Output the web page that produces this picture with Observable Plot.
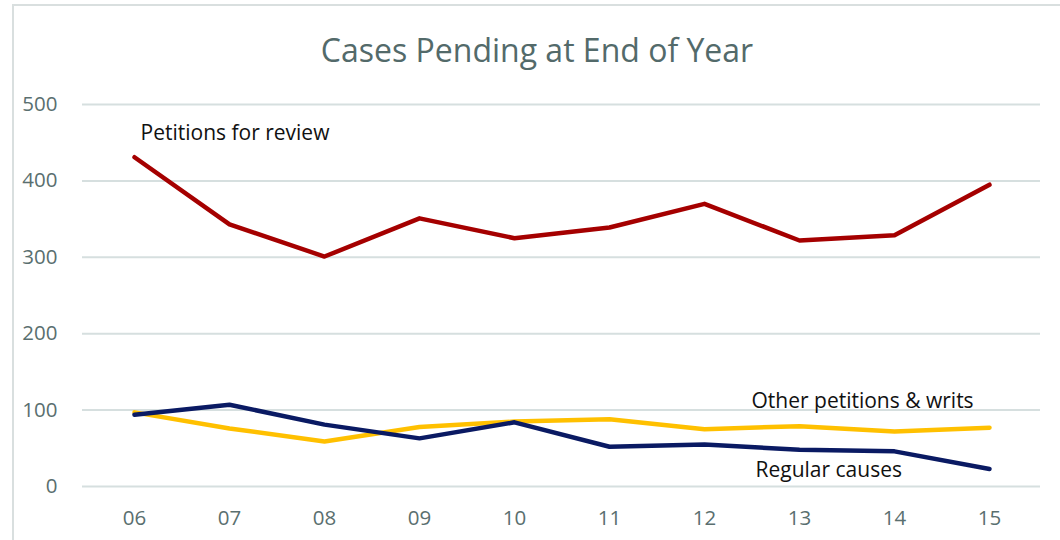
<!DOCTYPE html>
<html><head><meta charset="utf-8">
<script src="https://cdn.jsdelivr.net/npm/d3@7"></script>
<script src="https://cdn.jsdelivr.net/npm/@observablehq/plot@0.6"></script>
<style>
body{margin:0;width:1060px;height:540px;overflow:hidden;background:#fff;font-family:"Open Sans",sans-serif;position:relative}
#frame{position:absolute;left:12px;top:4px;width:1060px;height:560px;border:2px solid #d9dfdf;box-sizing:border-box}
#title{position:absolute;left:0;width:1074px;top:29px;text-align:center;font-size:32px;color:#536a6a;line-height:42px}
#chart{position:absolute;left:0;top:80px}
</style></head>
<body>
<div id="frame"></div>
<div id="title">Cases Pending at End of Year</div>
<div id="chart"></div>
<script>
const years = ["06","07","08","09","10","11","12","13","14","15"];
const petitionsForReview = [431,343,301,351,325,339,370,322,329,395];
const otherPetitions = [97,76,59,78,85,88,75,79,72,77];
const regularCauses = [94,107,81,63,84,52,55,48,46,23];
const yTicks = [0,100,200,300,400,500];
const labelText = ["Petitions for review","Other petitions & writs","Regular causes"];
const labelYear = ["06","12","12"];
const labelValue = [463,112,21];
const labelDx = [6,47,51];

const rows = (vals) => years.map((y,i)=>({year:y,value:vals[i]}));
const labels = labelText.map((t,i)=>({text:t,year:labelYear[i],value:labelValue[i],dx:labelDx[i]}));

const plot = Plot.plot({
  width:1060, height:460,
  marginLeft:82, marginRight:20, marginTop:24, marginBottom:54,
  style:{fontFamily:"Open Sans, sans-serif", fontSize:"20.5px", color:"#5a6f6f", background:"transparent"},
  x:{type:"point", domain:years, range:[130,992], padding:0, label:null, tickSize:0, tickPadding:24},
  y:{domain:[0,500], ticks:yTicks, label:null, tickSize:0, tickPadding:25},
  marks:[
    Plot.gridY(yTicks,{stroke:"#d6dfdf", strokeOpacity:1, strokeWidth:2}),
    Plot.line(rows(petitionsForReview),{x:"year",y:"value",stroke:"#a50000",strokeWidth:4.5}),
    Plot.line(rows(otherPetitions),{x:"year",y:"value",stroke:"#ffc000",strokeWidth:4.5}),
    Plot.line(rows(regularCauses),{x:"year",y:"value",stroke:"#0a1a63",strokeWidth:4.5}),
    ...labels.map(l=>Plot.text([l],{x:"year",y:"value",text:"text",dx:l.dx,textAnchor:"start",fill:"#111",fontSize:21}))
  ]
});
document.getElementById("chart").appendChild(plot);
</script>
</body></html>
